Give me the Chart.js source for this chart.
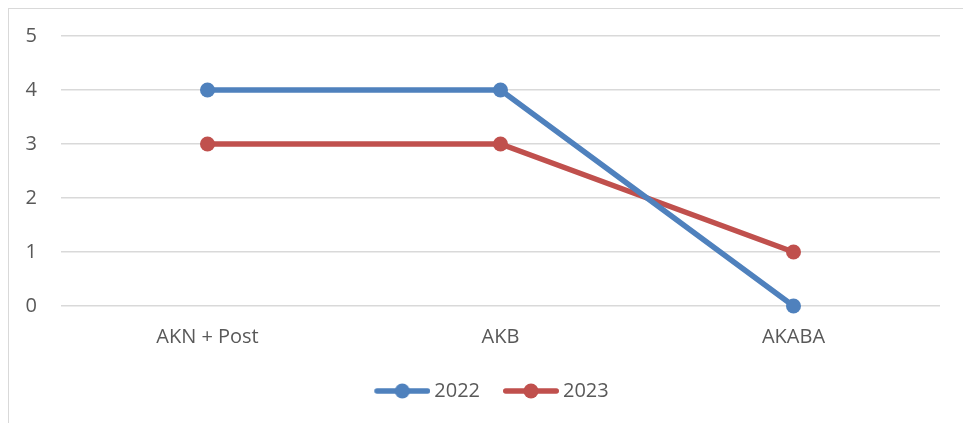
<!DOCTYPE html>
<html>
<head>
<meta charset="utf-8">
<script src="https://cdn.jsdelivr.net/npm/chart.js@4/dist/chart.umd.min.js"></script>
<style>
  html, body { margin: 0; padding: 0; background: #fff; overflow: hidden; }
  #wrap { position: relative; width: 963px; height: 423px; }
  #frame { position: absolute; left: 8px; top: 8px; width: 1000px; height: 500px; border: 1.5px solid #d9d9d9; box-sizing: border-box; }
  canvas { position: absolute; left: 0; top: 0; }
</style>
</head>
<body>
<div id="wrap">
  <div id="frame"></div>
  <canvas id="lineChart" width="963" height="423"></canvas>
</div>
<script>
  const labels = ['AKN + Post', 'AKB', 'AKABA'];
  const values2022 = [4, 4, 0];
  const values2023 = [3, 3, 1];
  const yTicks = [0, 1, 2, 3, 4, 5];

  const blue = '#4F81BD';
  const red = '#C0504D';
  const font = { family: "'Open Sans', 'Liberation Sans', sans-serif", size: 20 };

  // legend symbol: short line with a dot in the middle.
  // left part of the image is blank so the line sits right next to its text
  function legendMark(color) {
    const c = document.createElement('canvas');
    c.width = 75;
    c.height = 16;
    const g = c.getContext('2d');
    g.strokeStyle = color;
    g.lineWidth = 5.5;
    g.lineCap = 'round';
    g.beginPath();
    g.moveTo(21.75, 8);
    g.lineTo(72.25, 8);
    g.stroke();
    g.fillStyle = color;
    g.beginPath();
    g.arc(47, 8, 7.5, 0, Math.PI * 2);
    g.fill();
    return c;
  }

  const ctx = document.getElementById('lineChart').getContext('2d');
  new Chart(ctx, {
    type: 'line',
    data: {
      labels: labels,
      datasets: [{
        label: '2022',
        data: values2022,
        borderColor: blue,
        backgroundColor: blue,
        borderWidth: 5.5,
        pointRadius: 7.5,
        pointHoverRadius: 7.5,
        pointBorderWidth: 0,
        pointStyle: 'circle',
        tension: 0,
        clip: false
      }, {
        label: '2023',
        data: values2023,
        borderColor: red,
        backgroundColor: red,
        borderWidth: 5.5,
        pointRadius: 7.5,
        pointHoverRadius: 7.5,
        pointBorderWidth: 0,
        pointStyle: 'circle',
        tension: 0,
        clip: false
      }]
    },
    options: {
      responsive: false,
      animation: false,
      layout: { padding: { left: 7, right: 0, top: 34, bottom: 12 } },
      scales: {
        x: {
          offset: true,
          grid: { display: false, drawTicks: false },
          border: { display: false },
          ticks: { color: '#595959', font: font, padding: 19 },
          afterFit: (scale) => { scale.height = 65; }
        },
        y: {
          min: 0,
          max: 5,
          afterBuildTicks: (scale) => { scale.ticks = yTicks.map(v => ({ value: v })); },
          grid: { color: '#d9d9d9', lineWidth: 1.5, drawTicks: false },
          border: { display: false },
          ticks: { color: '#595959', font: font, padding: 24, align: 'center' },
          afterFit: (scale) => { scale.width = 54; }
        },
        // empty right-hand axis, only keeps a margin right of the plot
        yRight: {
          position: 'right',
          min: 0,
          max: 5,
          grid: { display: false, drawTicks: false },
          border: { display: false },
          ticks: { display: false },
          afterFit: (scale) => { scale.width = 23; }
        }
      },
      plugins: {
        tooltip: { enabled: false },
        legend: {
          position: 'bottom',
          labels: {
            color: '#595959',
            font: font,
            usePointStyle: true,
            pointStyleWidth: 63,
            padding: 10,
            generateLabels: (chart) => chart.data.datasets.map((ds, i) => ({
              text: ds.label,
              pointStyle: legendMark(ds.borderColor),
              fillStyle: ds.borderColor,
              strokeStyle: ds.borderColor,
              lineWidth: 0,
              fontColor: '#595959',
              datasetIndex: i
            }))
          }
        }
      }
    }
  });
</script>
</body>
</html>
